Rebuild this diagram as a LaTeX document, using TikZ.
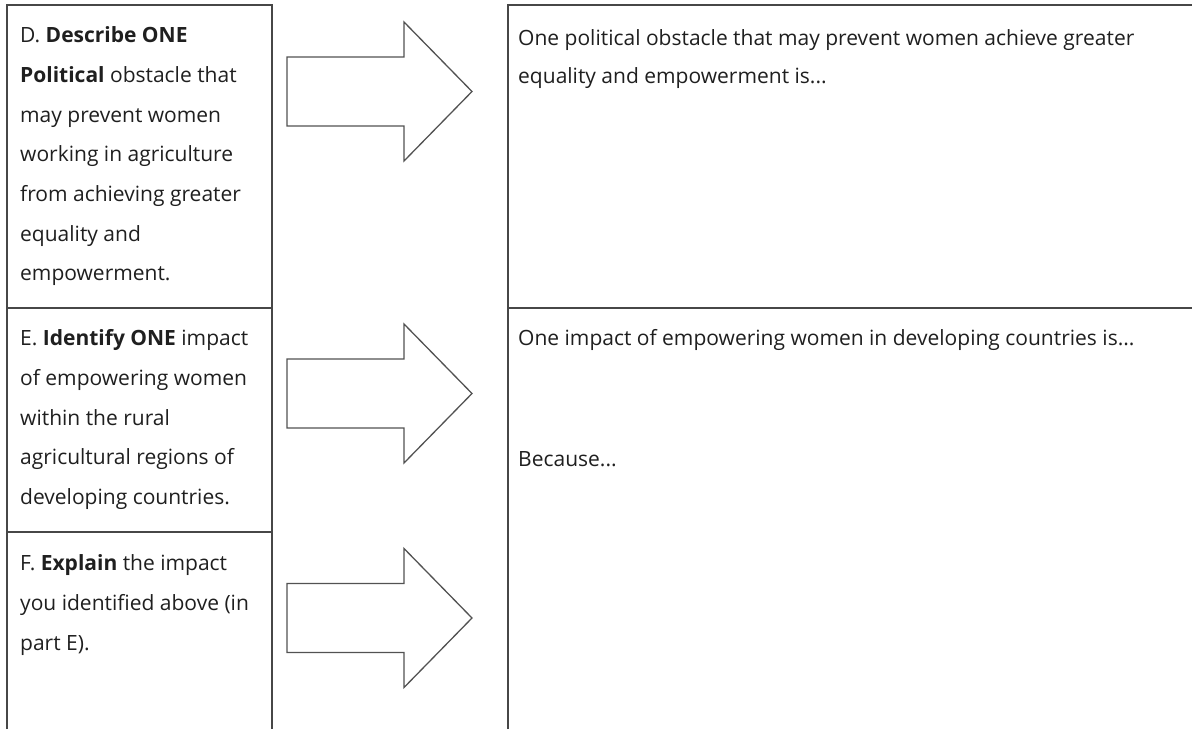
\documentclass[tikz,border=0pt]{standalone}
\usepackage{fontspec}
\setmainfont{Open Sans}
\begin{document}
\begin{tikzpicture}[x=1pt,y=-1pt,
  border/.style={draw=black!72, line width=1.4pt},
  bigarrow/.style={draw=black!68, line width=1.3pt, line join=miter},
  celltext/.style={anchor=north west, inner sep=0pt, align=left, text=black!88,
    font=\fontsize{21}{39.7}\selectfont}]
\useasboundingbox (0,0) rectangle (1192,729);
% corners of the left column
\coordinate (LTL) at (7,5);
\coordinate (LTR) at (272,5);
\coordinate (LBL) at (7,729);
\coordinate (LBR) at (272,729);
\coordinate (L1l) at (7,308);
\coordinate (L1r) at (272,308);
\coordinate (L2l) at (7,532);
\coordinate (L2r) at (272,532);
% corners of the right column
\coordinate (RTL) at (508,5);
\coordinate (RTR) at (1192,5);
\coordinate (RBL) at (508,729);
\coordinate (R1l) at (508,308);
\coordinate (R1r) at (1192,308);
% borders
\draw[border] (LBL) -- (LTL) -- (LTR) -- (LBR);
\draw[border] (L1l) -- (L1r);
\draw[border] (L2l) -- (L2r);
\draw[border] (RBL) -- (RTL) -- (RTR);
\draw[border] (R1l) -- (R1r);
% arrows
\foreach \c/\n in {91.5/a1, 393.5/a2, 618/a3}{
  \draw[bigarrow] (287,\c-34.5) -- (404,\c-34.5) -- (404,\c-69.5) -- (472,\c)
    -- (404,\c+69.5) -- (404,\c+34.5) -- (287,\c+34.5) -- cycle;
}
% left texts
\node[celltext] (D) at (20,26.5) {D. \textbf{Describe ONE}\\
\textbf{Political} obstacle that\\
may prevent women\\
working in agriculture\\
from achieving greater\\
equality and\\
empowerment.};
\node[celltext] (E) at (20,329.5) {E. \textbf{Identify ONE} impact\\
of empowering women\\
within the rural\\
agricultural regions of\\
developing countries.};
\node[celltext] (F) at (20,554.5) {F. \textbf{Explain} the impact\\
you identified above (in\\
part E).};
% right texts
\node[celltext,font=\fontsize{21}{38}\selectfont] (DA) at (518,29.5) {One political obstacle that may prevent women achieve greater\\
equality and empowerment is...};
\node[celltext] (EA) at (518,329.5) {One impact of empowering women in developing countries is...};
\node[celltext] (FA) at (518,451.5) {Because...};
\end{tikzpicture}
\end{document}
